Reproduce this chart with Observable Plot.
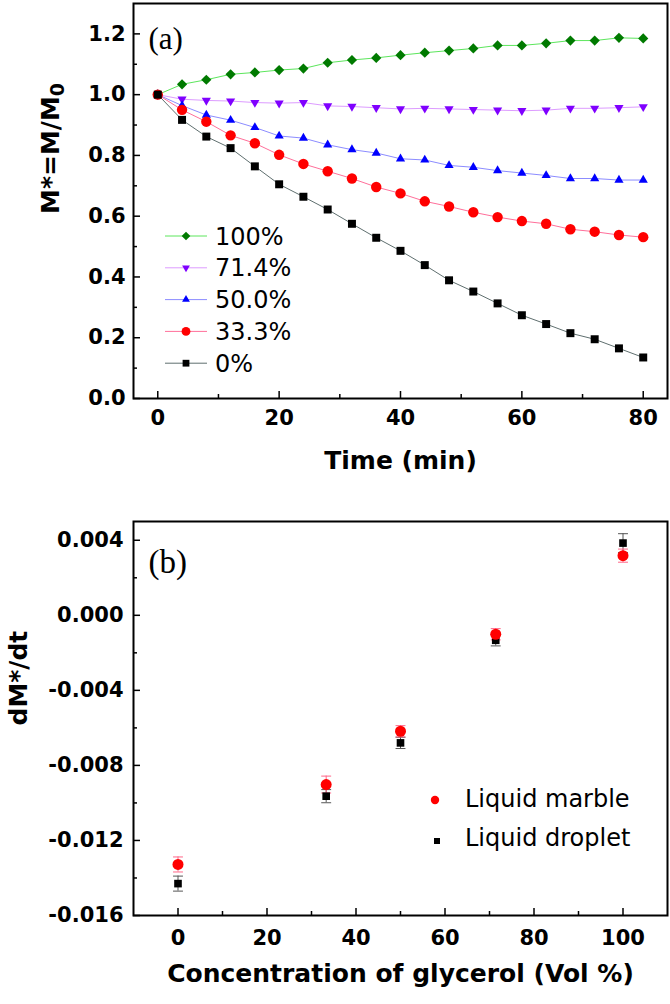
<!DOCTYPE html>
<html><head><meta charset="utf-8">
<script src="https://cdn.jsdelivr.net/npm/d3@7"></script>
<script src="https://cdn.jsdelivr.net/npm/@observablehq/plot@0.6"></script>
<style>
body{margin:0;background:#fff;}
#wrap{position:relative;width:670px;height:1004px;overflow:hidden;}
#wrap svg{display:block;}
#overlay{position:absolute;left:0;top:0;pointer-events:none;}
</style></head><body><div id="wrap"></div>
<script>
// ---------- data: panel (a) ----------
const time = [0,4,8,12,16,20,24,28,32,36,40,44,48,52,56,60,64,68,72,76,80];
const seriesNames = ["100%","71.4%","50.0%","33.3%","0%"];
const m100 = [1.000,1.034,1.049,1.067,1.073,1.081,1.086,1.105,1.114,1.121,1.130,1.138,1.145,1.152,1.162,1.162,1.169,1.178,1.178,1.187,1.185];
const m714 = [1.000,0.985,0.981,0.979,0.974,0.972,0.974,0.963,0.961,0.957,0.953,0.955,0.953,0.951,0.949,0.947,0.949,0.955,0.955,0.957,0.960];
const m500 = [1.000,0.964,0.933,0.916,0.892,0.864,0.857,0.835,0.819,0.808,0.789,0.785,0.767,0.761,0.750,0.742,0.734,0.724,0.724,0.719,0.719];
const m333 = [1.000,0.950,0.911,0.866,0.840,0.802,0.772,0.748,0.724,0.696,0.675,0.649,0.632,0.613,0.597,0.584,0.575,0.557,0.549,0.538,0.531];
const m0   = [1.000,0.917,0.862,0.824,0.764,0.705,0.664,0.622,0.575,0.529,0.486,0.439,0.389,0.352,0.313,0.274,0.245,0.215,0.195,0.165,0.135];
const aXTicks = [0,20,40,60,80];
const aXMinor = [10,30,50,70];
const aYTicks = [0,0.2,0.4,0.6,0.8,1.0,1.2];
const aYMinor = [0.1,0.3,0.5,0.7,0.9,1.1];
const aXTitle = "Time (min)";
const aYTitle = "M*=M/M";
const aYTitleSub = "0";

// ---------- data: panel (b) ----------
const conc = [0,33.3,50,71.4,100];
const marble = [-0.01328,-0.00902,-0.00618,-0.00101,0.00318];
const marbleErr = [0.00040,0.00045,0.00030,0.00030,0.00035];
const droplet = [-0.01430,-0.00964,-0.00680,-0.00133,0.00385];
const dropletErr = [0.00040,0.00035,0.00030,0.00030,0.00050];
const bSeriesNames = ["Liquid marble","Liquid droplet"];
const bXTicks = [0,20,40,60,80,100];
const bXMinor = [10,30,50,70,90];
const bYTicks = [-0.016,-0.012,-0.008,-0.004,0,0.004];
const bYMinor = [-0.014,-0.010,-0.006,-0.002,0.002];
const bXTitle = "Concentration of glycerol (Vol %)";
const bYTitle = "dM*/dt";

// ---------- symbols ----------
const triDown = {draw(ctx, size){ const y = -Math.sqrt(size/(Math.sqrt(3)*3)); ctx.moveTo(0,-2*y); ctx.lineTo(-Math.sqrt(3)*y, y); ctx.lineTo(Math.sqrt(3)*y, y); ctx.closePath(); }};
const capLine = {draw(ctx, size){ const w = Math.sqrt(size); ctx.moveTo(-w,0); ctx.lineTo(w,0); }};

const aSeries = [
  {name: seriesNames[0], values: m100, line:"#5ce65c", fill:"#007a00", symbol:"diamond2", r:4.6},
  {name: seriesNames[1], values: m714, line:"#dd9cff", fill:"#7f00ff", symbol:triDown, r:3.4},
  {name: seriesNames[2], values: m500, line:"#8c8cff", fill:"#0000ff", symbol:"triangle", r:3.4},
  {name: seriesNames[3], values: m333, line:"#ff6f9a", fill:"#ff0000", symbol:"circle", r:5.2},
  {name: seriesNames[4], values: m0,   line:"#5f6f6f", fill:"#000000", symbol:"square", r:4.5}
];

const W = 670, ML = 133, MR = 3;
const FW = W - ML - MR;
const aH = 500, aMT = 3, aMB = 102, aFH = aH - aMT - aMB;
const bH = 504, bMT = 21, bMB = 89, bFH = bH - bMT - bMB;
const baseStyle = {fontFamily:"DejaVu Sans", fontSize:"21px", color:"black", background:"white", overflow:"visible"};

const plotA = Plot.plot({
  width: W, height: aH, marginLeft: ML, marginRight: MR, marginTop: aMT, marginBottom: aMB,
  style: baseStyle,
  x: {domain:[-4,84]},
  y: {domain:[0,1.3]},
  marks: [
    Plot.tickY(aYTicks, {y:d=>d, insetRight: FW-7, strokeWidth:1.5}),
    Plot.tickY(aYMinor, {y:d=>d, insetRight: FW-4, strokeWidth:1.5}),
    Plot.tickX(aXTicks, {x:d=>d, insetTop: aFH-7, strokeWidth:1.5}),
    Plot.tickX(aXMinor, {x:d=>d, insetTop: aFH-4, strokeWidth:1.5}),
    Plot.axisY(aYTicks, {tickSize:0, tickPadding:8, tickFormat:d=>d.toFixed(1), fontSize:21, fontWeight:"bold", label:null}),
    Plot.axisX(aXTicks, {tickSize:0, tickPadding:12, tickFormat:d=>String(d), fontSize:21, fontWeight:"bold", label:null}),
    ...aSeries.map(s => Plot.line(time, {x:d=>d, y:(d,i)=>s.values[i], stroke:s.line, strokeWidth:1})),
    ...aSeries.map(s => Plot.dot(time, {x:d=>d, y:(d,i)=>s.values[i], symbol:s.symbol, r:s.r, fill:s.fill, stroke:"none"})),
    Plot.text(["(a)"], {text:d=>d, frameAnchor:"top-left", dx:15, dy:23, textAnchor:"start", fontFamily:"Liberation Serif", fontSize:31}),
    Plot.text([aXTitle], {text:d=>d, frameAnchor:"bottom", dy:70, fontSize:25, fontWeight:"bold"}),
    Plot.text([aYTitle], {text:d=>d, frameAnchor:"left", dx:-83, dy:13, rotate:-90, fontSize:25, fontWeight:"bold"}),
    Plot.frame({stroke:"black", strokeWidth:2})
  ]
});

const plotB = Plot.plot({
  width: W, height: bH, marginLeft: ML, marginRight: MR, marginTop: bMT, marginBottom: bMB,
  style: baseStyle,
  x: {domain:[-10,110]},
  y: {domain:[-0.016,0.005]},
  marks: [
    Plot.tickY(bYTicks, {y:d=>d, insetRight: FW-7, strokeWidth:1.5}),
    Plot.tickY(bYMinor, {y:d=>d, insetRight: FW-4, strokeWidth:1.5}),
    Plot.tickX(bXTicks, {x:d=>d, insetTop: bFH-7, strokeWidth:1.5}),
    Plot.tickX(bXMinor, {x:d=>d, insetTop: bFH-4, strokeWidth:1.5}),
    Plot.axisY(bYTicks, {tickSize:0, tickPadding:10, tickFormat:d=>d.toFixed(3), fontSize:21, fontWeight:"bold", label:null}),
    Plot.axisX(bXTicks, {tickSize:0, tickPadding:15, tickFormat:d=>String(d), fontSize:21, fontWeight:"bold", label:null}),
    // error bars
    Plot.ruleX(conc, {x:d=>d, y1:(d,i)=>droplet[i]-dropletErr[i], y2:(d,i)=>droplet[i]+dropletErr[i], stroke:"#555", strokeWidth:1}),
    Plot.dot(conc, {x:d=>d, y:(d,i)=>droplet[i]-dropletErr[i], symbol:capLine, r:2.8, stroke:"#555", fill:"none", strokeWidth:1}),
    Plot.dot(conc, {x:d=>d, y:(d,i)=>droplet[i]+dropletErr[i], symbol:capLine, r:2.8, stroke:"#555", fill:"none", strokeWidth:1}),
    Plot.ruleX(conc, {x:d=>d, y1:(d,i)=>marble[i]-marbleErr[i], y2:(d,i)=>marble[i]+marbleErr[i], stroke:"#ff6688", strokeWidth:1}),
    Plot.dot(conc, {x:d=>d, y:(d,i)=>marble[i]-marbleErr[i], symbol:capLine, r:2.8, stroke:"#ff6688", fill:"none", strokeWidth:1}),
    Plot.dot(conc, {x:d=>d, y:(d,i)=>marble[i]+marbleErr[i], symbol:capLine, r:2.8, stroke:"#ff6688", fill:"none", strokeWidth:1}),
    Plot.dot(conc, {x:d=>d, y:(d,i)=>droplet[i], symbol:"square", r:4.3, fill:"black", stroke:"none"}),
    Plot.dot(conc, {x:d=>d, y:(d,i)=>marble[i], symbol:"circle", r:5.5, fill:"#ff0000", stroke:"none"}),
    Plot.text(["(b)"], {text:d=>d, frameAnchor:"top-left", dx:15, dy:28, textAnchor:"start", fontFamily:"Liberation Serif", fontSize:33}),
    Plot.text([bXTitle], {text:d=>d, frameAnchor:"bottom", dy:66, fontSize:25, fontWeight:"bold"}),
    Plot.text([bYTitle], {text:d=>d, frameAnchor:"left", dx:-115, dy:7, rotate:-90, fontSize:25, fontWeight:"bold"}),
    Plot.frame({stroke:"black", strokeWidth:2})
  ]
});

// subscript for the y title of panel (a)
d3.select(plotA).selectAll("text").filter(function(){ return this.textContent === aYTitle; })
  .each(function(){ d3.select(this).append("tspan").attr("dy","0.3em").attr("font-size","19px").text(aYTitleSub); });

const wrap = document.getElementById("wrap");
wrap.appendChild(plotA);
wrap.appendChild(plotB);

// ---------- legends (overlay) ----------
const ov = d3.select(wrap).append("svg").attr("id","overlay").attr("width",W).attr("height",1004)
  .style("font-family","DejaVu Sans").style("font-size","24px");
const symMap = {"diamond2": d3.symbolDiamond2, "triangle": d3.symbolTriangle, "circle": d3.symbolCircle, "square": d3.symbolSquare};
const legA = {x0:165, x1:207, xm:186, xt:215, y0:236, dy:31.8};
aSeries.forEach((s,i) => {
  const y = legA.y0 + i*legA.dy;
  ov.append("line").attr("x1",legA.x0).attr("x2",legA.x1).attr("y1",y).attr("y2",y).attr("stroke",s.line).attr("stroke-width",1);
  const st = typeof s.symbol === "string" ? symMap[s.symbol] : s.symbol;
  const rr = s.r*0.85;
  ov.append("path").attr("d", d3.symbol(st, Math.PI*rr*rr)()).attr("transform",`translate(${legA.xm},${y})`).attr("fill",s.fill);
  ov.append("text").attr("x",legA.xt).attr("y",y+8.6).text(s.name);
});
const legB = [{name:bSeriesNames[0], sym:d3.symbolCircle, r:4.2, fill:"#ff0000", x:435, y:800, ty:806.5},
              {name:bSeriesNames[1], sym:d3.symbolSquare, r:3.4, fill:"black", x:437, y:841, ty:846}];
legB.forEach(l => {
  ov.append("path").attr("d", d3.symbol(l.sym, Math.PI*l.r*l.r)()).attr("transform",`translate(${l.x},${l.y})`).attr("fill",l.fill);
  ov.append("text").attr("x",465).attr("y",l.ty).text(l.name);
});
</script></body></html>
